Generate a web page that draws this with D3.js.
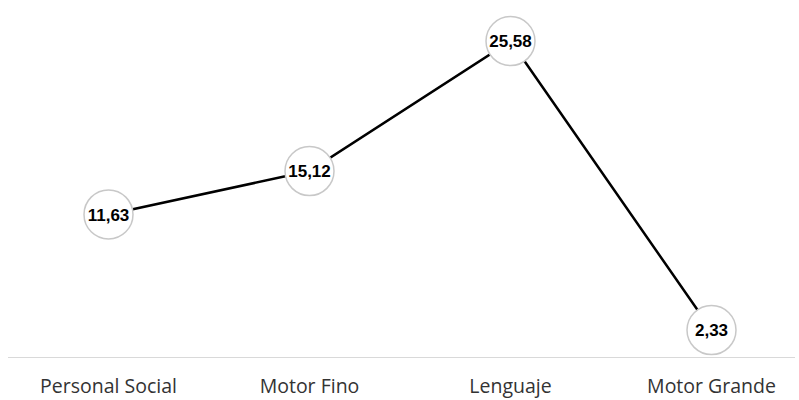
<!DOCTYPE html>
<html>
<head>
<meta charset="utf-8">
<script src="https://cdn.jsdelivr.net/npm/d3@7"></script>
<style>
  html, body { margin: 0; padding: 0; background: #fff; }
  svg { display: block; }
</style>
</head>
<body>
<svg id="chart" width="799" height="400"></svg>
<script>
// Developmental area scores
const categories = ["Personal Social", "Motor Fino", "Lenguaje", "Motor Grande"];
const values = [11.63, 15.12, 25.58, 2.33];
const valueLabels = ["11,63", "15,12", "25,58", "2,33"];

const svg = d3.select("#chart");

const x = d3.scaleBand()
  .domain(categories)
  .range([8, 812]);

const y = d3.scaleLinear()
  .domain([0, 28])
  .range([359, 11]);

const data = categories.map((c, i) => ({ cat: c, value: values[i], label: valueLabels[i] }));
const cx = d => x(d.cat) + x.bandwidth() / 2;

// baseline axis
svg.append("line")
  .attr("x1", 8).attr("x2", 795)
  .attr("y1", 357.5).attr("y2", 357.5)
  .attr("stroke", "#d9d9d9")
  .attr("stroke-width", 1);

// category labels
svg.selectAll("text.cat")
  .data(data)
  .enter().append("text")
  .attr("class", "cat")
  .attr("x", cx)
  .attr("y", 393)
  .attr("text-anchor", "middle")
  .attr("font-family", "Open Sans, sans-serif")
  .attr("font-size", 19.5)
  .attr("fill", "#333")
  .text(d => d.cat);

// series line
const line = d3.line()
  .x(cx)
  .y(d => y(d.value));

svg.append("path")
  .datum(data)
  .attr("d", line)
  .attr("fill", "none")
  .attr("stroke", "#000")
  .attr("stroke-width", 2.5);

// markers with value labels
const g = svg.selectAll("g.pt")
  .data(data)
  .enter().append("g")
  .attr("class", "pt")
  .attr("transform", d => `translate(${cx(d)},${y(d.value)})`);

g.append("circle")
  .attr("r", 24.5)
  .attr("fill", "#fff")
  .attr("stroke", "#c8c8c8")
  .attr("stroke-width", 1.5);

g.append("text")
  .attr("text-anchor", "middle")
  .attr("dy", "0.36em")
  .attr("font-family", "Liberation Sans, Arial, sans-serif")
  .attr("font-weight", "bold")
  .attr("font-size", 17)
  .attr("fill", "#000")
  .text(d => d.label);
</script>
</body>
</html>
